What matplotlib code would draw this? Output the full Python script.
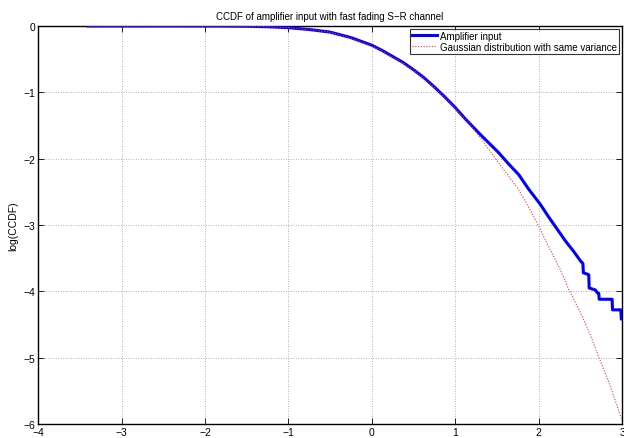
import numpy as np
import matplotlib
matplotlib.use("Agg")
import matplotlib.pyplot as plt

# values (log10 of CCDF)
gauss_x = [-3.4, -2.5, -2.0, -1.75, -1.5, -1.25, -1.0, -0.75, -0.5, -0.25, 0.0,
           0.125, 0.25, 0.375, 0.5, 0.625, 0.75, 0.875, 1.0, 1.125, 1.25, 1.375,
           1.5, 1.625, 1.76, 1.875, 2.0, 2.12, 2.25, 2.36, 2.5, 2.62, 2.72,
           2.85, 3.0]
gauss_y = [0.0, 0.0, -0.0005, -0.0012, -0.004, -0.011, -0.025, -0.054, -0.094,
           -0.18, -0.30, -0.38, -0.47, -0.56, -0.67, -0.79, -0.93, -1.08, -1.24,
           -1.41, -1.60, -1.81, -2.03, -2.24, -2.47, -2.72, -3.02, -3.33, -3.65,
           -3.97, -4.32, -4.66, -4.99, -5.40, -5.95]

amp_x = [-3.4, -2.5, -2.0, -1.75, -1.5, -1.25, -1.0, -0.75, -0.5, -0.25, 0.0,
         0.125, 0.25, 0.375, 0.5, 0.625, 0.75, 0.875, 1.0, 1.12, 1.28, 1.4,
         1.52, 1.64, 1.76, 1.88, 2.02, 2.12, 2.22, 2.32, 2.42, 2.50, 2.53,
         2.535, 2.60, 2.605, 2.68, 2.70, 2.72, 2.725, 2.88, 2.885, 2.985,
         2.99, 3.0]
amp_y = [0.0, 0.0, -0.0005, -0.0012, -0.004, -0.011, -0.025, -0.053, -0.092,
         -0.175, -0.29, -0.37, -0.46, -0.55, -0.66, -0.78, -0.92, -1.07, -1.23,
         -1.40, -1.61, -1.76, -1.91, -2.08, -2.24, -2.46, -2.69, -2.88, -3.06,
         -3.24, -3.40, -3.54, -3.58, -3.72, -3.75, -3.95, -3.98, -4.02, -4.03,
         -4.12, -4.12, -4.28, -4.28, -4.42, -4.42]

x_ticks = [-4, -3, -2, -1, 0, 1, 2, 3]
y_ticks = [-6, -5, -4, -3, -2, -1, 0]

plt.rcParams['font.family'] = ['Liberation Sans', 'DejaVu Sans']
plt.rcParams['axes.unicode_minus'] = True

fig = plt.figure(figsize=(6.24, 4.39), dpi=100)
ax = fig.add_axes([0.061, 0.032, 0.936, 0.9065])

ax.plot(amp_x, amp_y, color='#0000ff', lw=2.2, label='Amplifier input', zorder=3)
ax.plot(gauss_x, gauss_y, color='#ff3030', lw=0.8, ls=(0, (1, 1.5)),
        label='Gaussian distribution with same variance', zorder=4)

ax.set_xlim(-4, 3)
ax.set_ylim(-6, 0)
ax.set_xticks(x_ticks)
ax.set_yticks(y_ticks)
ax.grid(True, ls=(0, (1, 2)), color='#999999', lw=0.6)
ax.tick_params(direction='in', length=4, width=0.6, labelsize=7.5,
               top=True, right=True, pad=2)
for s in ax.spines.values():
    s.set_linewidth(1.0)

ax.set_title('CCDF of amplifier input with fast fading S\u2212R channel',
             fontsize=7, pad=5)
ax.set_ylabel('log(CCDF)', fontsize=7.5, labelpad=4)

leg = ax.legend(loc='upper right', fontsize=7, frameon=True, fancybox=False,
                borderpad=0.2, handlelength=2.6, handletextpad=0.3,
                labelspacing=0.1, borderaxespad=0.3)
leg.get_frame().set_edgecolor('black')
leg.get_frame().set_linewidth(0.8)

fig.savefig('out.png', dpi=100)
